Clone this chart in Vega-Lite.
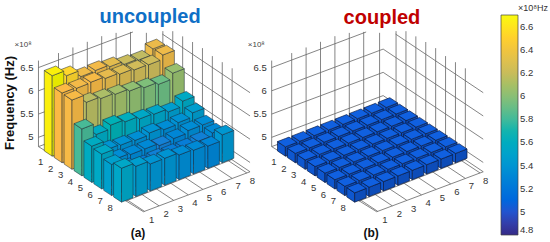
{"$schema":"https://vega.github.io/schema/vega-lite/v6.json","width":550,"height":242,"padding":0,"autosize":{"type":"none"},"background":"white","config":{"view":{"stroke":null},"text":{"font":"Liberation Sans"}},
"datasets":{
"grid":[
{"a1":-0.03,"b1":0.63,"z1":4.8,"a2":-0.03,"b2":0.63,"z2":6.65},
{"a1":0,"b1":2,"z1":4.8,"a2":0,"b2":2,"z2":6.65},{"a1":0,"b1":3,"z1":4.8,"a2":0,"b2":3,"z2":6.65},{"a1":0,"b1":4,"z1":4.8,"a2":0,"b2":4,"z2":6.65},{"a1":0,"b1":5,"z1":4.8,"a2":0,"b2":5,"z2":6.65},{"a1":0,"b1":6,"z1":4.8,"a2":0,"b2":6,"z2":6.6},{"a1":0,"b1":7,"z1":4.8,"a2":0,"b2":7,"z2":6.5},{"a1":0.15,"b1":8,"z1":4.8,"a2":0.15,"b2":8,"z2":6.38},
{"a1":1.45,"b1":8.25,"z1":4.8,"a2":1.45,"b2":8.25,"z2":6.57},{"a1":2.45,"b1":8.25,"z1":4.8,"a2":2.45,"b2":8.25,"z2":6.71},{"a1":3.45,"b1":8.25,"z1":4.8,"a2":3.45,"b2":8.25,"z2":6.74},{"a1":4.45,"b1":8.25,"z1":4.8,"a2":4.45,"b2":8.25,"z2":6.76},{"a1":5.45,"b1":8.25,"z1":4.8,"a2":5.45,"b2":8.25,"z2":6.77},{"a1":6.45,"b1":8.25,"z1":4.8,"a2":6.45,"b2":8.25,"z2":6.74},{"a1":7.45,"b1":8.25,"z1":4.8,"a2":7.45,"b2":8.25,"z2":6.75},{"a1":8.45,"b1":8.25,"z1":4.8,"a2":8.45,"b2":8.25,"z2":6.76},
{"a1":-0.03,"b1":0.63,"z1":5,"a2":0.15,"b2":8.25,"z2":5},{"a1":-0.03,"b1":0.63,"z1":5.5,"a2":0.15,"b2":8.25,"z2":5.5},{"a1":-0.03,"b1":0.63,"z1":6,"a2":0.15,"b2":8.25,"z2":6},{"a1":-0.03,"b1":0.63,"z1":6.5,"a2":0.1,"b2":7.1,"z2":6.5},
{"a1":0.15,"b1":8.25,"z1":5,"a2":10.3,"b2":8.22,"z2":5},{"a1":0.15,"b1":8.25,"z1":5.5,"a2":10.3,"b2":8.22,"z2":5.5},{"a1":0.15,"b1":8.25,"z1":6,"a2":10.3,"b2":8.22,"z2":6},{"a1":1.4,"b1":8.25,"z1":6.5,"a2":10.3,"b2":8.22,"z2":6.5},
{"a1":-0.03,"b1":0.63,"z1":4.8,"a2":10.14,"b2":0.93,"z2":4.8},{"a1":10.14,"b1":0.93,"z1":4.8,"a2":10.3,"b2":8.22,"z2":4.8},{"a1":-0.03,"b1":0.63,"z1":4.8,"a2":0.15,"b2":8.25,"z2":4.8},{"a1":0.15,"b1":8.25,"z1":4.8,"a2":10.3,"b2":8.22,"z2":4.8},
{"a1":0,"b1":1,"z1":4.8,"a2":10.14,"b2":1,"z2":4.8},{"a1":0,"b1":2,"z1":4.8,"a2":10.16,"b2":2,"z2":4.8},{"a1":0,"b1":3,"z1":4.8,"a2":10.18,"b2":3,"z2":4.8},{"a1":0,"b1":4,"z1":4.8,"a2":10.2,"b2":4,"z2":4.8},{"a1":0,"b1":5,"z1":4.8,"a2":10.22,"b2":5,"z2":4.8},{"a1":0,"b1":6,"z1":4.8,"a2":10.25,"b2":6,"z2":4.8},{"a1":0,"b1":7,"z1":4.8,"a2":10.27,"b2":7,"z2":4.8},{"a1":0,"b1":8,"z1":4.8,"a2":10.3,"b2":8,"z2":4.8},
{"a1":1.45,"b1":0.7,"z1":4.8,"a2":1.45,"b2":8.25,"z2":4.8},{"a1":2.45,"b1":0.72,"z1":4.8,"a2":2.45,"b2":8.25,"z2":4.8},{"a1":3.45,"b1":0.74,"z1":4.8,"a2":3.45,"b2":8.25,"z2":4.8},{"a1":4.45,"b1":0.76,"z1":4.8,"a2":4.45,"b2":8.25,"z2":4.8},{"a1":5.45,"b1":0.78,"z1":4.8,"a2":5.45,"b2":8.25,"z2":4.8},{"a1":6.45,"b1":0.8,"z1":4.8,"a2":6.45,"b2":8.25,"z2":4.8},{"a1":7.45,"b1":0.83,"z1":4.8,"a2":7.45,"b2":8.25,"z2":4.8},{"a1":8.45,"b1":0.85,"z1":4.8,"a2":8.45,"b2":8.25,"z2":4.8}
],
"bars":[
{"i":1,"j":8,"f":6.26},{"i":1,"j":7,"f":6.14},{"i":1,"j":6,"f":6.17},{"i":1,"j":5,"f":6.24},{"i":1,"j":4,"f":6.28},{"i":1,"j":3,"f":6.27},{"i":1,"j":2,"f":6.41},{"i":1,"j":1,"f":6.53},
{"i":2,"j":8,"f":6.27},{"i":2,"j":7,"f":6.18},{"i":2,"j":6,"f":6.19},{"i":2,"j":5,"f":6.22},{"i":2,"j":4,"f":6.25},{"i":2,"j":3,"f":6.29},{"i":2,"j":2,"f":6.28},{"i":2,"j":1,"f":6.3},
{"i":3,"j":8,"f":6.02},{"i":3,"j":7,"f":5.9},{"i":3,"j":6,"f":5.95},{"i":3,"j":5,"f":6.0},{"i":3,"j":4,"f":6.05},{"i":3,"j":3,"f":6.08},{"i":3,"j":2,"f":6.12},{"i":3,"j":1,"f":6.29},
{"i":4,"j":8,"f":5.56},{"i":4,"j":7,"f":5.45},{"i":4,"j":6,"f":5.52},{"i":4,"j":5,"f":5.54},{"i":4,"j":4,"f":5.6},{"i":4,"j":3,"f":5.65},{"i":4,"j":2,"f":5.57},{"i":4,"j":1,"f":5.81},
{"i":5,"j":8,"f":5.45},{"i":5,"j":7,"f":5.36},{"i":5,"j":6,"f":5.33},{"i":5,"j":5,"f":5.38},{"i":5,"j":4,"f":5.34},{"i":5,"j":3,"f":5.36},{"i":5,"j":2,"f":5.38},{"i":5,"j":1,"f":5.58},
{"i":6,"j":8,"f":5.33},{"i":6,"j":7,"f":5.33},{"i":6,"j":6,"f":5.28},{"i":6,"j":5,"f":5.25},{"i":6,"j":4,"f":5.3},{"i":6,"j":3,"f":5.3},{"i":6,"j":2,"f":5.33},{"i":6,"j":1,"f":5.55},
{"i":7,"j":8,"f":5.3},{"i":7,"j":7,"f":5.24},{"i":7,"j":6,"f":5.22},{"i":7,"j":5,"f":5.22},{"i":7,"j":4,"f":5.24},{"i":7,"j":3,"f":5.22},{"i":7,"j":2,"f":5.28},{"i":7,"j":1,"f":5.47},
{"i":8,"j":8,"f":5.4},{"i":8,"j":7,"f":5.28},{"i":8,"j":6,"f":5.31},{"i":8,"j":5,"f":5.33},{"i":8,"j":4,"f":5.38},{"i":8,"j":3,"f":5.38},{"i":8,"j":2,"f":5.45},{"i":8,"j":1,"f":5.53}
],
"coupled":[{"i":1,"j":8,"f":5},{"i":1,"j":7,"f":5},{"i":1,"j":6,"f":5},{"i":1,"j":5,"f":5},{"i":1,"j":4,"f":5},{"i":1,"j":3,"f":5},{"i":1,"j":2,"f":5},{"i":1,"j":1,"f":5},{"i":2,"j":8,"f":5},{"i":2,"j":7,"f":5},{"i":2,"j":6,"f":5},{"i":2,"j":5,"f":5},{"i":2,"j":4,"f":5},{"i":2,"j":3,"f":5},{"i":2,"j":2,"f":5},{"i":2,"j":1,"f":5},{"i":3,"j":8,"f":5},{"i":3,"j":7,"f":5},{"i":3,"j":6,"f":5},{"i":3,"j":5,"f":5},{"i":3,"j":4,"f":5},{"i":3,"j":3,"f":5},{"i":3,"j":2,"f":5},{"i":3,"j":1,"f":5},{"i":4,"j":8,"f":5},{"i":4,"j":7,"f":5},{"i":4,"j":6,"f":5},{"i":4,"j":5,"f":5},{"i":4,"j":4,"f":5},{"i":4,"j":3,"f":5},{"i":4,"j":2,"f":5},{"i":4,"j":1,"f":5},{"i":5,"j":8,"f":5},{"i":5,"j":7,"f":5},{"i":5,"j":6,"f":5},{"i":5,"j":5,"f":5},{"i":5,"j":4,"f":5},{"i":5,"j":3,"f":5},{"i":5,"j":2,"f":5},{"i":5,"j":1,"f":5},{"i":6,"j":8,"f":5},{"i":6,"j":7,"f":5},{"i":6,"j":6,"f":5},{"i":6,"j":5,"f":5},{"i":6,"j":4,"f":5},{"i":6,"j":3,"f":5},{"i":6,"j":2,"f":5},{"i":6,"j":1,"f":5},{"i":7,"j":8,"f":5},{"i":7,"j":7,"f":5},{"i":7,"j":6,"f":5},{"i":7,"j":5,"f":5},{"i":7,"j":4,"f":5},{"i":7,"j":3,"f":5},{"i":7,"j":2,"f":5},{"i":7,"j":1,"f":5},{"i":8,"j":8,"f":5},{"i":8,"j":7,"f":5},{"i":8,"j":6,"f":5},{"i":8,"j":5,"f":5},{"i":8,"j":4,"f":5},{"i":8,"j":3,"f":5},{"i":8,"j":2,"f":5},{"i":8,"j":1,"f":5}],
"ticks":[
{"t":"1","a":1.53,"b":-0.286},{"t":"2","a":2.53,"b":-0.286},{"t":"3","a":3.53,"b":-0.286},{"t":"4","a":4.53,"b":-0.286},{"t":"5","a":5.53,"b":-0.286},{"t":"6","a":6.53,"b":-0.286},{"t":"7","a":7.53,"b":-0.286},{"t":"8","a":8.53,"b":-0.286},
{"t":"1","a":11.24,"b":0.743},{"t":"2","a":11.24,"b":1.743},{"t":"3","a":11.24,"b":2.743},{"t":"4","a":11.24,"b":3.743},{"t":"5","a":11.24,"b":4.743},{"t":"6","a":11.24,"b":5.743},{"t":"7","a":11.24,"b":6.743},{"t":"8","a":11.24,"b":7.743}
],
"zticks":[{"t":"5","z":5},{"t":"5.5","z":5.5},{"t":"6","z":6},{"t":"6.5","z":6.5}]
},
"layer":[
{"data":{"name":"grid"},"transform":[{"calculate":"[0,1]","as":"p"},{"flatten":["p"]},
{"calculate":"54+9.9*(datum.a1-1)+14.4*(datum.b1-1)+233.2*datum.p","as":"x1"},{"calculate":"54+9.9*(datum.a2-1)+14.4*(datum.b2-1)+233.2*datum.p","as":"x2"},
{"calculate":"151.3+6.57*(datum.a1-1)-5.63*(datum.b1-1)-46.5*(datum.z1-4.8)","as":"y1"},{"calculate":"151.3+6.57*(datum.a2-1)-5.63*(datum.b2-1)-46.5*(datum.z2-4.8)","as":"y2"}],
"mark":{"type":"rule","stroke":"#666666","strokeWidth":0.8},
"encoding":{"x":{"field":"x1","type":"quantitative","axis":null,"scale":{"domain":[0,550],"nice":false,"zero":false}},"y":{"field":"y1","type":"quantitative","axis":null,"scale":{"domain":[242,0],"nice":false,"zero":false}},"x2":{"field":"x2"},"y2":{"field":"y2"}}},
{"data":{"name":"bars"},"transform":[
{"calculate":"[0,1,2]","as":"face"},{"flatten":["face"]},{"calculate":"datum.face==2?[0,1,2,3]:[0,1]","as":"v"},{"flatten":["v"]},
{"calculate":"datum.face==0?[0,7.92][datum.v]:datum.face==1?[7.92,19.44][datum.v]:[0,7.92,11.52,19.44][datum.v]","as":"dx"},
{"calculate":"datum.face==0?[0,5.256][datum.v]:datum.face==1?[5.256,0.752][datum.v]:[0,5.256,3.85,0.752][datum.v]","as":"dl"},
{"calculate":"datum.face==2?[0,-3.096,-4.504,0.752][datum.v]:datum.dl","as":"du"},
{"calculate":"54+9.9*(datum.i-1.4)+14.4*(datum.j-1.4)+datum.dx","as":"px"},
{"calculate":"151.3+6.57*(datum.i-1.4)-5.63*(datum.j-1.4)","as":"yl"},
{"calculate":"datum.yl-46.5*(datum.f-4.8)+datum.du","as":"py"},
{"calculate":"datum.face==2?datum.yl-46.5*(datum.f-4.8)+datum.dl:datum.yl+datum.dl","as":"py2"},
{"calculate":"datum.i*100+datum.j*10+datum.face","as":"id"},
{"calculate":"datum.f+(datum.face==1?10:0)","as":"k"}],
"mark":{"type":"area","orient":"vertical","stroke":"#1c2a3a","strokeWidth":0.6,"strokeOpacity":0.85},
"encoding":{"x":{"field":"px","type":"quantitative"},"y":{"field":"py","type":"quantitative","stack":null},"y2":{"field":"py2"},"detail":{"field":"id","type":"nominal"},
"fill":{"field":"k","type":"quantitative","legend":null,"scale":{"domain":[4.75,4.97,5.25,5.5,5.75,5.97,6.15,6.3,6.5,14.75,14.97,15.25,15.5,15.75,15.97,16.15,16.3,16.5],"range":["#352A87","#0F5CDD","#1481D6","#06A4CA","#2EB7A4","#87BF77","#C4BC62","#FBB945","#F9F00E","#312780","#0E56CE","#1378C7","#0698BC","#2BAA99","#7EB26F","#B6AF5B","#E9AC40","#E8E00D"]}}}},
{"data":{"name":"coupled"},"transform":[
{"calculate":"[0,1,2]","as":"face"},{"flatten":["face"]},{"calculate":"datum.face==2?[0,1,2,3]:[0,1]","as":"v"},{"flatten":["v"]},
{"calculate":"datum.face==0?[0,7.92][datum.v]:datum.face==1?[7.92,19.44][datum.v]:[0,7.92,11.52,19.44][datum.v]","as":"dx"},
{"calculate":"datum.face==0?[0,5.256][datum.v]:datum.face==1?[5.256,0.752][datum.v]:[0,5.256,3.85,0.752][datum.v]","as":"dl"},
{"calculate":"datum.face==2?[0,-3.096,-4.504,0.752][datum.v]:datum.dl","as":"du"},
{"calculate":"54+9.9*(datum.i-1.4)+14.4*(datum.j-1.4)+datum.dx+233.2","as":"px"},
{"calculate":"151.3+6.57*(datum.i-1.4)-5.63*(datum.j-1.4)","as":"yl"},
{"calculate":"datum.yl-46.5*(datum.f-4.8)+datum.du","as":"py"},
{"calculate":"datum.face==2?datum.yl-46.5*(datum.f-4.8)+datum.dl:datum.yl+datum.dl","as":"py2"},
{"calculate":"datum.i*100+datum.j*10+datum.face","as":"id"},
{"calculate":"datum.f+(datum.face==1?10:0)+(datum.face==0?20:0)","as":"k"}],
"mark":{"type":"area","orient":"vertical","stroke":"#0a1a40","strokeWidth":0.7,"strokeOpacity":0.95},
"encoding":{"x":{"field":"px","type":"quantitative"},"y":{"field":"py","type":"quantitative","stack":null},"y2":{"field":"py2"},"detail":{"field":"id","type":"nominal"},
"fill":{"field":"k","type":"quantitative","legend":null,"scale":{"domain":[5,15,25],"range":["#1060E0","#0D4CB8","#0E57CF"]}}}},
{"data":{"name":"ticks"},"transform":[{"calculate":"[0,1]","as":"p"},{"flatten":["p"]},{"calculate":"54+9.9*(datum.a-1)+14.4*(datum.b-1)+233.2*datum.p","as":"px"},{"calculate":"151.3+6.57*(datum.a-1)-5.63*(datum.b-1)","as":"py"}],
"mark":{"type":"text","fontSize":9.5,"fill":"#333333","align":"center","baseline":"middle"},
"encoding":{"x":{"field":"px","type":"quantitative"},"y":{"field":"py","type":"quantitative"},"text":{"field":"t","type":"nominal"}}},
{"data":{"name":"zticks"},"transform":[{"calculate":"[0,1]","as":"p"},{"flatten":["p"]},{"calculate":"54+9.9*(-1.03)+14.4*(-0.37)+233.2*datum.p","as":"px"},{"calculate":"151.3+6.57*(-1.03)-5.63*(-0.37)-46.5*(datum.z-4.8)","as":"py"}],
"mark":{"type":"text","fontSize":9.5,"fill":"#333333","align":"right","baseline":"middle","dx":-5},
"encoding":{"x":{"field":"px","type":"quantitative"},"y":{"field":"py","type":"quantitative"},"text":{"field":"t","type":"nominal"}}},
{"data":{"values":[{"t":"×10⁸","p":0},{"t":"×10⁸","p":1}]},"transform":[{"calculate":"54+14.4*(-2.15)+233.2*datum.p","as":"px"},{"calculate":"151.3+12.1-46.5*2.55","as":"py"}],
"mark":{"type":"text","fontSize":8,"fill":"#444444","align":"center","baseline":"middle"},
"encoding":{"x":{"field":"px","type":"quantitative"},"y":{"field":"py","type":"quantitative"},"text":{"field":"t","type":"nominal"}}},
{"data":{"values":[{"t":"uncoupled","p":0,"b":7.67,"z":6.88,"c":"u"},{"t":"coupled","p":1,"b":7.58,"z":6.87,"c":"c"}]},"transform":[{"calculate":"54+14.4*(datum.b-1)+233.2*datum.p","as":"px"},{"calculate":"151.3-5.63*(datum.b-1)-46.5*(datum.z-4.8)","as":"py"}],
"mark":{"type":"text","fontSize":20,"fontWeight":"bold","align":"center","baseline":"middle"},
"encoding":{"x":{"field":"px","type":"quantitative"},"y":{"field":"py","type":"quantitative"},"text":{"field":"t","type":"nominal"},"color":{"field":"c","type":"nominal","legend":null,"scale":{"domain":["u","c"],"range":["#0F6FC6","#C00000"]}}}},
{"data":{"values":[{"t":"(a)","p":0},{"t":"(b)","p":1}]},"transform":[{"calculate":"54+9.9*10.97+14.4*(-1.71)+233.2*datum.p","as":"px"},{"calculate":"151.3+6.57*10.97-5.63*(-1.71)","as":"py"}],
"mark":{"type":"text","fontSize":12,"fontWeight":"bold","fill":"#111111","align":"center","baseline":"middle"},
"encoding":{"x":{"field":"px","type":"quantitative"},"y":{"field":"py","type":"quantitative"},"text":{"field":"t","type":"nominal"}}},
{"data":{"values":[{"t":"Frequency (Hz)"}]},"transform":[{"calculate":"54+14.4*(-3.06)","as":"px"},{"calculate":"151.3+17.2-46.5*1.41","as":"py"}],
"mark":{"type":"text","fontSize":13,"fontWeight":"bold","fill":"#111111","angle":270,"align":"center","baseline":"middle"},
"encoding":{"x":{"field":"px","type":"quantitative"},"y":{"field":"py","type":"quantitative"},"text":{"field":"t","type":"nominal"}}},
{"data":{"values":[{"t":"×10⁸Hz"}]},"transform":[{"calculate":"54+14.4*16.03+233.2","as":"px"},{"calculate":"151.3-90.2-46.5*1.14","as":"py"}],
"mark":{"type":"text","fontSize":9,"fill":"#333333","align":"left","baseline":"middle"},
"encoding":{"x":{"field":"px","type":"quantitative"},"y":{"field":"py","type":"quantitative"},"text":{"field":"t","type":"nominal"}}},
{"data":{"values":[{"v":4.8},{"v":6.7}]},"mark":{"type":"point","filled":true,"size":0,"opacity":1},
"encoding":{"fill":{"field":"v","type":"quantitative","scale":{"domain":[4.8,5.0375,5.275,5.5125,5.75,5.9875,6.225,6.4625,6.7],"range":["#352A87","#0F5CDD","#1481D6","#06A4CA","#2EB7A4","#87BF77","#D1BB59","#FEC832","#F9FB0E"]},
"legend":{"orient":"none","legendX":501,"legendY":15,"title":null,"gradientLength":220,"gradientThickness":17,"gradientOpacity":1,"values":[4.8,5,5.2,5.4,5.6,5.8,6,6.2,6.4,6.6],"format":".2~f","labelFont":"Liberation Sans","labelFontSize":9.5,"labelColor":"#333333","labelOffset":2,"labelOverlap":false,"labelBaseline":"middle","gradientStrokeColor":"#444444","gradientStrokeWidth":0.7}}}}
],
"resolve":{"scale":{"fill":"independent","color":"independent"},"legend":{"fill":"independent"}}}
